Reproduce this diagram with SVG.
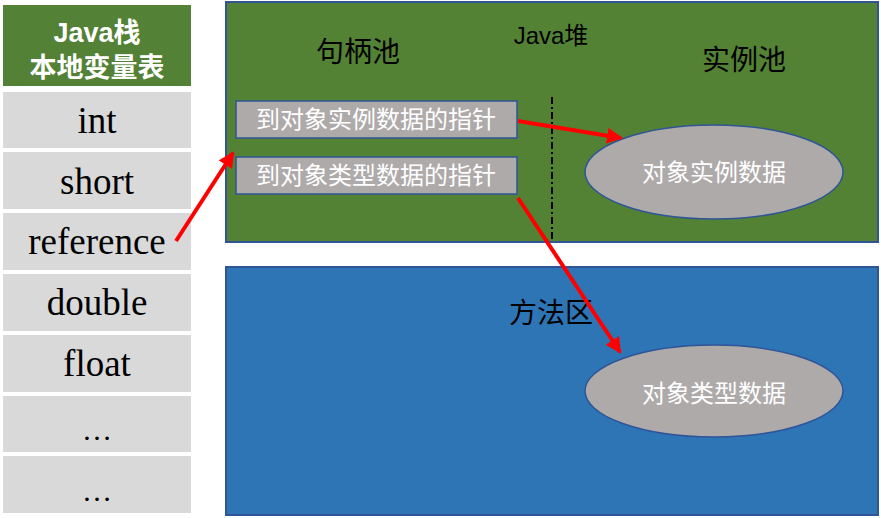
<svg xmlns="http://www.w3.org/2000/svg" width="881" height="518" viewBox="0 0 881 518">
<style>
.cell{fill:#D9D9D9}
.ct{font-family:"Liberation Serif",serif;font-size:37px;fill:#000;text-anchor:middle}
.hd{font-family:"Liberation Sans","Noto Sans CJK SC",sans-serif;font-size:27px;font-weight:bold;fill:#fff;text-anchor:middle}
.lbl{font-family:"Liberation Sans","Noto Sans CJK SC",sans-serif;font-size:28px;fill:#000;text-anchor:middle}
.bx{fill:#AEAAAA;stroke:#2F5597;stroke-width:1.5}
.bt{font-family:"Noto Sans CJK SC",sans-serif;font-size:24px;fill:#fff;text-anchor:middle}
.et{font-family:"Noto Sans CJK SC",sans-serif;font-size:24px;fill:#fff;text-anchor:middle}
.arr{stroke:#FF0000;stroke-width:4;fill:none;marker-end:url(#ah)}
</style>
<defs>
<marker id="ah" markerWidth="4" markerHeight="4" refX="3.5" refY="2" orient="auto" markerUnits="strokeWidth">
<path d="M0,0 L4,2 L0,4 Z" fill="#FF0000"/>
</marker>
</defs>
<rect width="881" height="518" fill="#fff"/>
<g id="stack">
<rect x="3" y="5" width="188" height="81" fill="#538135"/>
<text class="hd" x="97" y="42">Java栈</text>
<text class="hd" x="97" y="77">本地变量表</text>
<rect class="cell" x="3" y="92" width="188" height="56"/>
<text class="ct" x="97" y="133">int</text>
<rect class="cell" x="3" y="152" width="188" height="57"/>
<text class="ct" x="97" y="194">short</text>
<rect class="cell" x="3" y="213" width="188" height="57"/>
<text class="ct" x="97" y="254">reference</text>
<rect class="cell" x="3" y="274" width="188" height="57"/>
<text class="ct" x="97" y="315">double</text>
<rect class="cell" x="3" y="335" width="188" height="57"/>
<text class="ct" x="97" y="376">float</text>
<rect class="cell" x="3" y="396" width="188" height="56"/>
<text class="ct" x="97" y="440" style="font-size:30px">…</text>
<rect class="cell" x="3" y="456" width="188" height="57"/>
<text class="ct" x="97" y="501" style="font-size:30px">…</text>
</g>
<g id="heap">
<rect x="226" y="2" width="652" height="240" fill="#548235" stroke="#2F5597" stroke-width="2"/>
<text class="lbl" x="551" y="44" style="font-size:24px">Java堆</text>
<text class="lbl" x="358" y="62">句柄池</text>
<text class="lbl" x="744" y="70">实例池</text>
<line x1="552" y1="97" x2="552" y2="242" stroke="#000" stroke-width="2" stroke-dasharray="7,3,2,3"/>
</g>
<g id="ptr-instance">
<rect class="bx" x="236" y="101" width="281" height="37"/>
<text class="bt" x="376" y="128">到对象实例数据的指针</text>
</g>
<g id="ptr-type">
<rect class="bx" x="236" y="157" width="281" height="37"/>
<text class="bt" x="376" y="184">到对象类型数据的指针</text>
</g>
<g id="instance-data">
<ellipse class="bx" cx="714" cy="172" rx="129" ry="47"/>
<text class="et" x="714" y="181">对象实例数据</text>
</g>
<g id="method">
<rect x="226" y="267" width="652" height="248" fill="#2E75B6" stroke="#2F5597" stroke-width="2"/>
<text class="lbl" x="551" y="323">方法区</text>
</g>
<g id="type-data">
<ellipse class="bx" cx="714" cy="391" rx="129" ry="46"/>
<text class="et" x="714" y="402">对象类型数据</text>
</g>
<g id="connectors">
<line class="arr" x1="176" y1="241" x2="233" y2="153"/>
<line class="arr" x1="518" y1="121" x2="621" y2="138"/>
<line class="arr" x1="518" y1="198" x2="620" y2="352"/>
</g>
</svg>
